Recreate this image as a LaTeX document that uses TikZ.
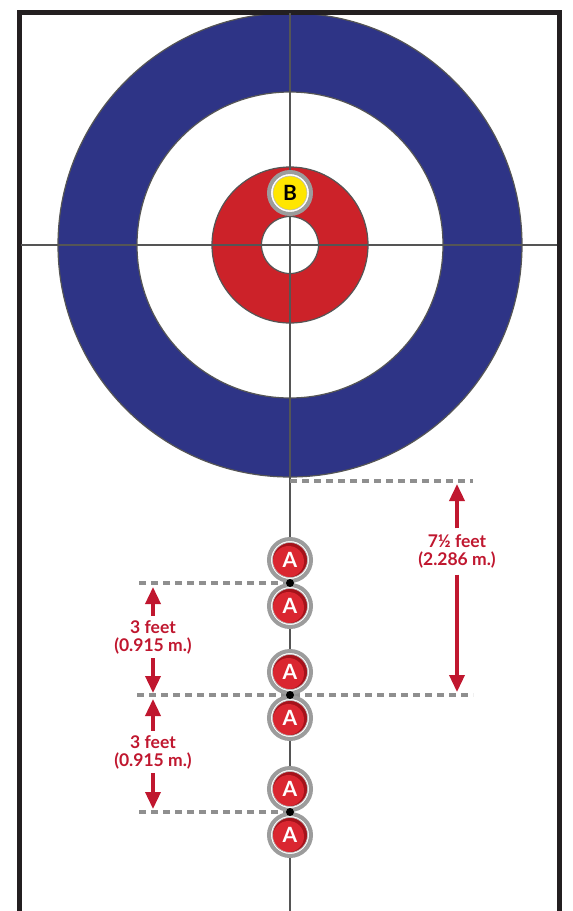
\documentclass[tikz,border=0pt]{standalone}
\usepackage{fontspec}
\setmainfont{Lato}
\usetikzlibrary{arrows.meta}
\definecolor{houseblue}{HTML}{2E3486}
\definecolor{housered}{HTML}{CC2229}
\definecolor{labelred}{HTML}{C0172F}
\definecolor{stonegray}{HTML}{9C9C9C}
\definecolor{dashgray}{HTML}{8F8F8F}
\definecolor{linegray}{HTML}{555555}
\definecolor{stonered}{HTML}{DA2630}
\definecolor{stonedark}{HTML}{A5131B}
\definecolor{stoneyellow}{HTML}{FFE600}
\definecolor{sheetline}{HTML}{231F20}
\begin{document}
\begin{tikzpicture}[x=1pt,y=-1pt,
  ring/.style={draw=linegray, line width=1.2pt},
  guide/.style={draw=linegray, line width=1.4pt},
  measure/.style={draw=dashgray, line width=3.2pt, dash pattern=on 7pt off 5pt},
  dimarrow/.style={draw=labelred, line width=3.5pt, -{Triangle[width=15pt,length=17pt]}},
  dimlabel/.style={text=labelred, font=\fontsize{17.5}{18}\selectfont\bfseries, align=center, inner sep=4pt},
  stoneA/.style={circle, minimum size=42pt, inner sep=0pt, draw=stonegray, line width=4pt,
    fill=white, text=white, font=\fontsize{21}{21}\selectfont\bfseries,
    path picture={
      \fill[stonedark] (path picture bounding box.center) circle (17.5pt);
      \fill[stonered] ([shift={(-1.5pt,-1.5pt)}]path picture bounding box.center) circle (15.5pt);
      \draw[stonegray!70, line width=0.6pt] (path picture bounding box.center) circle (17.5pt);}},
  stoneB/.style={circle, minimum size=42pt, inner sep=0pt, draw=stonegray, line width=4pt,
    fill=white, text=black, font=\fontsize{21}{21}\selectfont\bfseries,
    path picture={
      \fill[stoneyellow] (path picture bounding box.center) circle (17pt);
      \draw[stonegray!70, line width=0.6pt] (path picture bounding box.center) circle (17pt);}},
  touchdot/.style={circle, fill=black, minimum size=8pt, inner sep=0pt}
]
\useasboundingbox (0,0) rectangle (573,911);
\fill[white] (0,0) rectangle (573,911);

% house
\coordinate (tee) at (290,245);
\fill[houseblue] (tee) circle (232pt);
\draw[ring] (tee) circle (232pt);
\fill[white] (tee) circle (153pt);
\draw[ring] (tee) circle (153pt);
\fill[housered] (tee) circle (78pt);
\draw[ring] (tee) circle (78pt);
\fill[white] (tee) circle (28.5pt);
\draw[ring] (tee) circle (28.5pt);

% sheet border
\draw[sheetline, line width=5pt] (19.5,911) -- (19.5,12.5) -- (559,12.5) -- (559,911);

% centre line and tee line
\coordinate (cl top) at (290,13);
\coordinate (cl bot) at (290,911);
\coordinate (tl left) at (21,245);
\coordinate (tl right) at (557,245);
\draw[guide] (cl top) -- (cl bot);
\draw[guide] (tl left) -- (tl right);

% measurement dashed lines
\coordinate (m0a) at (290,481);
\coordinate (m0b) at (473,481);
\coordinate (m1a) at (290,583);
\coordinate (m1b) at (137,583);
\coordinate (m2a) at (137,695);
\coordinate (m2b) at (473,695);
\coordinate (m3a) at (290,812);
\coordinate (m3b) at (137,812);
\draw[measure] (m0a) -- (m0b);
\draw[measure] (m1a) -- (m1b);
\draw[measure] (m2a) -- (m2b);
\draw[measure] (m3a) -- (m3b);

% stones
\node[stoneB] (b) at (290,193) {B};
\node[stoneA] (a1) at (290,560) {A};
\node[stoneA] (a2) at (290,606) {A};
\node[stoneA] (a3) at (290,672) {A};
\node[stoneA] (a4) at (290,718) {A};
\node[stoneA] (a5) at (290,789) {A};
\node[stoneA] (a6) at (290,835) {A};
\node[touchdot] (d1) at (290,583) {};
\node[touchdot] (d2) at (290,695) {};
\node[touchdot] (d3) at (290,812) {};

% labels and arrows
\node[dimlabel, inner sep=6pt] (lr) at (457,551.5) {7½ feet\\(2.286 m.)};
\node[dimlabel] (l1) at (153,637) {3 feet\\(0.915 m.)};
\node[dimlabel] (l2) at (153,752) {3 feet\\(0.915 m.)};
\coordinate (rt1) at (457,484);
\coordinate (rt2) at (457,692);
\coordinate (lt1) at (153,587);
\coordinate (lt2) at (153,693);
\coordinate (lt3) at (153,699);
\coordinate (lt4) at (153,809);
\draw[dimarrow] (lr.north) -- (rt1);
\draw[dimarrow] (lr.south) -- (rt2);
\draw[dimarrow] (l1.north) -- (lt1);
\draw[dimarrow] (l1.south) -- (lt2);
\draw[dimarrow] (l2.north) -- (lt3);
\draw[dimarrow] (l2.south) -- (lt4);
\end{tikzpicture}
\end{document}
